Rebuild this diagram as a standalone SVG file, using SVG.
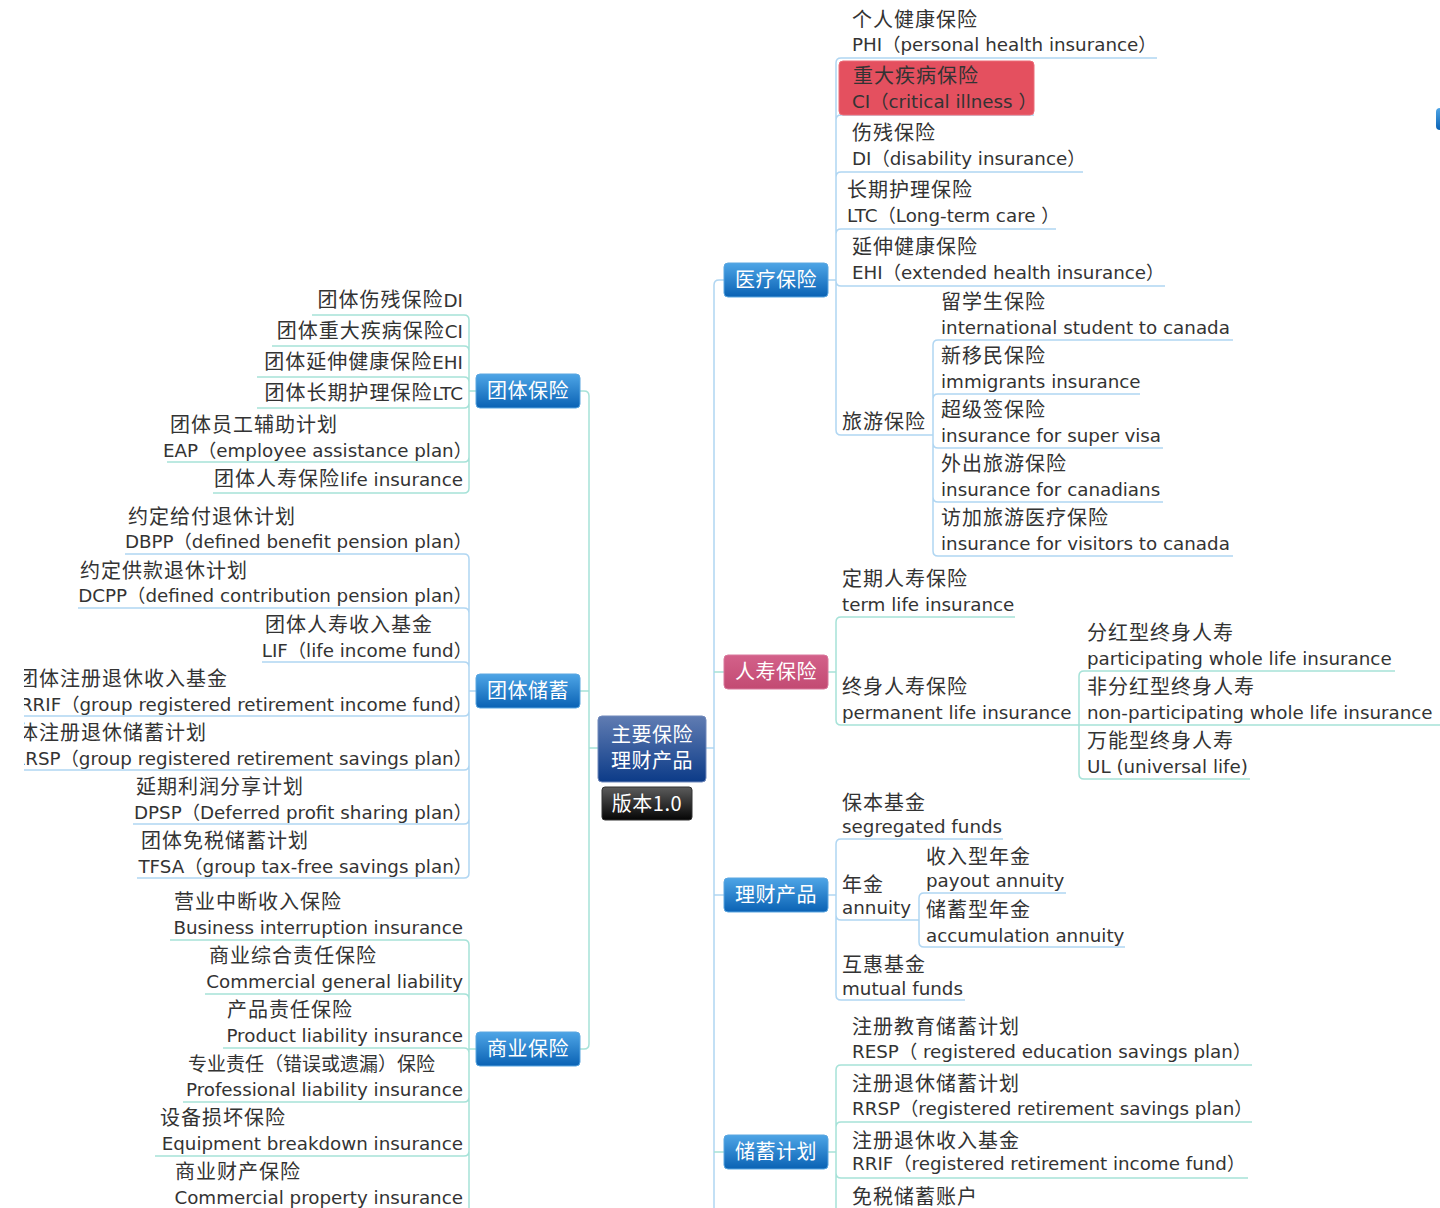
<svg xmlns="http://www.w3.org/2000/svg" width="1440" height="1208" viewBox="0 0 1440 1208">
<style>
.zh{font-family:"Noto Sans CJK SC","DejaVu Sans",sans-serif;font-size:20px;fill:#333;letter-spacing:1px}
.en{font-family:"DejaVu Sans","Noto Sans CJK SC",sans-serif;font-size:18.3px;fill:#333;letter-spacing:0}
.r{text-anchor:end}
.nt{font-family:"Noto Sans CJK SC","DejaVu Sans",sans-serif;font-size:20px;fill:#fff;text-anchor:middle;letter-spacing:0.5px}
.lb{fill:none;stroke:#b0d6f2;stroke-width:1.5}
.lt{fill:none;stroke:#a6e2d8;stroke-width:1.5}
.bb{fill:url(#gBlue);stroke:#5aa6e0;stroke-width:1}
</style>
<defs>
<linearGradient id="gBlue" x1="0" y1="0" x2="0" y2="1"><stop offset="0" stop-color="#4ea5e6"/><stop offset="1" stop-color="#0a62b4"/></linearGradient>
<linearGradient id="gPink" x1="0" y1="0" x2="0" y2="1"><stop offset="0" stop-color="#d3618a"/><stop offset="1" stop-color="#c24a72"/></linearGradient>
<linearGradient id="gNavy" x1="0" y1="0" x2="0" y2="1"><stop offset="0" stop-color="#607cb2"/><stop offset="1" stop-color="#0c3b88"/></linearGradient>
<linearGradient id="gBlack" x1="0" y1="0" x2="0" y2="1"><stop offset="0" stop-color="#5c5c5c"/><stop offset="1" stop-color="#050505"/></linearGradient>
<clipPath id="leftClip"><rect x="24" y="0" width="1416" height="1208"/></clipPath>
</defs>
<rect width="1440" height="1208" fill="#fff"/>

<g id="connectors">
  <path class="lt" d="M598,748 H589 M580,391 H584 Q589,391 589,396 V1044 Q589,1049 584,1049 H580 M589,691 H580"/>
  <path class="lb" d="M706,748 H714 M724,280 H719 Q714,280 714,285 V1208 M714,895 H724"/>
  <path class="lt" d="M714,672 H724 M714,1152 H724"/>
  <path class="lb" d="M828,280 H836 M836,63 V430
    M836,63 Q836,58 841,58 H1157
    M836,120 Q836,115 841,115 H1034
    M836,177 Q836,172 841,172 H1083
    M836,234 Q836,229 841,229 H1056
    M836,281 Q836,286 841,286 H1165
    M836,430 Q836,435 841,435 H933"/>
  <path class="lb" d="M933,345 V551
    M933,345 Q933,340 938,340 H1233
    M933,399 Q933,394 938,394 H1140
    M933,443 Q933,448 938,448 H1163
    M933,497 Q933,502 938,502 H1163
    M933,551 Q933,556 938,556 H1233"/>
  <path class="lt" d="M828,672 H836 M836,622 V720
    M836,622 Q836,617 841,617 H1015
    M836,720 Q836,725 841,725 H1079
    M1079,676 V774
    M1079,676 Q1079,671 1084,671 H1395
    M1079,725 H1440
    M1079,774 Q1079,779 1084,779 H1250"/>
  <path class="lb" d="M828,895 H836 M836,844 V995
    M836,844 Q836,839 841,839 H1003
    M836,915 Q836,920 841,920 H919
    M836,995 Q836,1000 841,1000 H965
    M919,898 V942
    M919,898 Q919,893 924,893 H1066
    M919,942 Q919,947 924,947 H1125"/>
  <path class="lt" d="M828,1152 H836 M836,1070 V1208
    M836,1070 Q836,1065 841,1065 H1252
    M836,1127 Q836,1122 841,1122 H1252
    M836,1173 Q836,1178 841,1178 H1248"/>
  <path class="lt" d="M476,391 H469 M469,320 V488
    M469,320 Q469,315 464,315 H312
    M469,351 Q469,346 464,346 H272
    M469,382 Q469,377 464,377 H257
    M469,403 Q469,408 464,408 H257
    M469,457 Q469,462 464,462 H167
    M469,488 Q469,493 464,493 H213"/>
  <path class="lb" clip-path="url(#leftClip)" d="M476,691 H469 M469,559 V873
    M469,559 Q469,554 464,554 H125
    M469,613 Q469,608 464,608 H78
    M469,667 Q469,662 464,662 H262
    M469,711 Q469,716 464,716 H0
    M469,765 Q469,770 464,770 H0
    M469,819 Q469,824 464,824 H133
    M469,873 Q469,878 464,878 H137"/>
  <path class="lt" d="M476,1049 H469 M469,945 V1208
    M469,945 Q469,940 464,940 H170
    M469,999 Q469,994 464,994 H205
    M469,1053 Q469,1048 464,1048 H223
    M469,1097 Q469,1102 464,1102 H183
    M469,1151 Q469,1156 464,1156 H155"/>
</g>

<g id="center">
  <rect x="598" y="716" width="108" height="66" rx="4" fill="url(#gNavy)" stroke="#7189bb" stroke-width="1"/>
  <text class="nt" x="652" y="742">主要保险<tspan x="652" dy="26">理财产品</tspan></text>
</g>
<g id="version">
  <rect x="602" y="787" width="90" height="33" rx="3" fill="url(#gBlack)" stroke="#333" stroke-width="1"/>
  <text class="nt" x="647" y="811">版本1.0</text>
</g>

<g id="tuanti-baoxian"><rect class="bb" x="476" y="374" width="104" height="34" rx="4"/><text class="nt" x="528" y="398">团体保险</text></g>
<g id="tuanti-chuxu"><rect class="bb" x="476" y="674" width="104" height="34" rx="4"/><text class="nt" x="528" y="698">团体储蓄</text></g>
<g id="shangye-baoxian"><rect class="bb" x="476" y="1032" width="104" height="34" rx="4"/><text class="nt" x="528" y="1056">商业保险</text></g>

<g id="yiliao-baoxian"><rect class="bb" x="724" y="263" width="104" height="34" rx="4"/><text class="nt" x="776" y="287">医疗保险</text></g>
<g id="renshou-baoxian"><rect x="724" y="655" width="104" height="34" rx="4" fill="url(#gPink)" stroke="#d9789c" stroke-width="1"/><text class="nt" x="776" y="679">人寿保险</text></g>
<g id="licai-chanpin"><rect class="bb" x="724" y="878" width="104" height="34" rx="4"/><text class="nt" x="776" y="902">理财产品</text></g>
<g id="chuxu-jihua"><rect class="bb" x="724" y="1135" width="104" height="34" rx="4"/><text class="nt" x="776" y="1159">储蓄计划</text></g>

<g id="phi"><text class="zh" x="852" y="27">个人健康保险</text><text class="en" x="852" y="51">PHI（personal health insurance）</text></g>
<g id="ci"><rect x="839" y="61" width="195" height="54" rx="4" fill="#e4505f" stroke="#ec6c78" stroke-width="1"/><text class="zh" x="853" y="83">重大疾病保险</text><text class="en" x="852" y="108">CI（critical illness ）</text></g>
<g id="di"><text class="zh" x="852" y="140">伤残保险</text><text class="en" x="852" y="165">DI（disability insurance）</text></g>
<g id="ltc"><text class="zh" x="847" y="197">长期护理保险</text><text class="en" x="847" y="222">LTC（Long-term care ）</text></g>
<g id="ehi"><text class="zh" x="852" y="254">延伸健康保险</text><text class="en" x="852" y="279">EHI（extended health insurance）</text></g>
<g id="lvyou"><text class="zh" x="842" y="429">旅游保险</text></g>
<g id="liuxuesheng"><text class="zh" x="941" y="309">留学生保险</text><text class="en" x="941" y="334">international student to canada</text></g>
<g id="xinyimin"><text class="zh" x="941" y="363">新移民保险</text><text class="en" x="941" y="388">immigrants insurance</text></g>
<g id="chaojiqian"><text class="zh" x="941" y="417">超级签保险</text><text class="en" x="941" y="442">insurance for super visa</text></g>
<g id="waichu"><text class="zh" x="941" y="471">外出旅游保险</text><text class="en" x="941" y="496">insurance for canadians</text></g>
<g id="fangjia"><text class="zh" x="941" y="525">访加旅游医疗保险</text><text class="en" x="941" y="550">insurance for visitors to canada</text></g>

<g id="dingqi"><text class="zh" x="842" y="586">定期人寿保险</text><text class="en" x="842" y="611">term life insurance</text></g>
<g id="zhongshen"><text class="zh" x="842" y="694">终身人寿保险</text><text class="en" x="842" y="719">permanent life insurance</text></g>
<g id="fenhong"><text class="zh" x="1087" y="640">分红型终身人寿</text><text class="en" x="1087" y="665">participating whole life insurance</text></g>
<g id="feifenhong"><text class="zh" x="1087" y="694">非分红型终身人寿</text><text class="en" x="1087" y="719">non-participating whole life insurance</text></g>
<g id="wanneng"><text class="zh" x="1087" y="748">万能型终身人寿</text><text class="en" x="1087" y="773">UL (universal life)</text></g>

<g id="baoben"><text class="zh" x="842" y="810">保本基金</text><text class="en" x="842" y="833">segregated funds</text></g>
<g id="nianjin"><text class="zh" x="842" y="892">年金</text><text class="en" x="842" y="914">annuity</text></g>
<g id="shouru-nianjin"><text class="zh" x="926" y="864">收入型年金</text><text class="en" x="926" y="887">payout annuity</text></g>
<g id="chuxu-nianjin"><text class="zh" x="926" y="917">储蓄型年金</text><text class="en" x="926" y="942">accumulation annuity</text></g>
<g id="huhui"><text class="zh" x="842" y="972">互惠基金</text><text class="en" x="842" y="995">mutual funds</text></g>

<g id="resp"><text class="zh" x="852" y="1034">注册教育储蓄计划</text><text class="en" x="852" y="1058">RESP（ registered education savings plan）</text></g>
<g id="rrsp"><text class="zh" x="852" y="1091">注册退休储蓄计划</text><text class="en" x="852" y="1115">RRSP（registered retirement savings plan）</text></g>
<g id="rrif"><text class="zh" x="852" y="1148">注册退休收入基金</text><text class="en" x="852" y="1170">RRIF（registered retirement income fund）</text></g>
<g id="tfsa"><text class="zh" x="852" y="1204">免税储蓄账户</text></g>

<g id="g-di"><text class="zh r" x="463" y="307">团体伤残保险<tspan class="en">DI</tspan></text></g>
<g id="g-ci"><text class="zh r" x="463" y="338">团体重大疾病保险<tspan class="en">CI</tspan></text></g>
<g id="g-ehi"><text class="zh r" x="463" y="369">团体延伸健康保险<tspan class="en">EHI</tspan></text></g>
<g id="g-ltc"><text class="zh r" x="463" y="400">团体长期护理保险<tspan class="en">LTC</tspan></text></g>
<g id="g-eap"><text class="zh" x="170" y="432">团体员工辅助计划</text><text class="en r" x="472" y="457">EAP（employee assistance plan）</text></g>
<g id="g-life"><text class="zh r" x="463" y="486">团体人寿保险<tspan class="en">life insurance</tspan></text></g>

<g id="dbpp"><text class="zh" x="128" y="524">约定给付退休计划</text><text class="en r" x="472" y="548">DBPP（defined benefit pension plan）</text></g>
<g id="dcpp"><text class="zh" x="80" y="578">约定供款退休计划</text><text class="en r" x="472" y="602">DCPP（defined contribution pension plan）</text></g>
<g id="lif"><text class="zh" x="265" y="632">团体人寿收入基金</text><text class="en r" x="472" y="657">LIF（life income fund）</text></g>
<g id="grrif" clip-path="url(#leftClip)"><text class="zh" x="18" y="686">团体注册退休收入基金</text><text class="en r" x="472" y="711">GRRIF（group registered retirement income fund）</text></g>
<g id="grrsp" clip-path="url(#leftClip)"><text class="zh" x="-3" y="740">团体注册退休储蓄计划</text><text class="en r" x="472" y="765">GRRSP（group registered retirement savings plan）</text></g>
<g id="dpsp"><text class="zh" x="136" y="794">延期利润分享计划</text><text class="en r" x="472" y="819">DPSP（Deferred profit sharing plan）</text></g>
<g id="g-tfsa"><text class="zh" x="141" y="848">团体免税储蓄计划</text><text class="en r" x="472" y="873">TFSA（group tax-free savings plan）</text></g>

<g id="bi"><text class="zh" x="174" y="909">营业中断收入保险</text><text class="en r" x="463" y="934">Business interruption insurance</text></g>
<g id="cgl"><text class="zh" x="209" y="963">商业综合责任保险</text><text class="en r" x="463" y="988">Commercial general liability</text></g>
<g id="pli"><text class="zh" x="227" y="1017">产品责任保险</text><text class="en r" x="463" y="1042">Product liability insurance</text></g>
<g id="prof"><text class="zh" x="188" y="1071" style="font-size:19px;letter-spacing:0">专业责任（错误或遗漏）保险</text><text class="en r" x="463" y="1096">Professional liability insurance</text></g>
<g id="equip"><text class="zh" x="160" y="1125">设备损坏保险</text><text class="en r" x="463" y="1150">Equipment breakdown insurance</text></g>
<g id="cpi"><text class="zh" x="175" y="1179">商业财产保险</text><text class="en r" x="463" y="1204">Commercial property insurance</text></g>

<g id="edge-fragment"><rect x="1436" y="108" width="20" height="22" rx="4" fill="url(#gBlue)"/></g>
</svg>
